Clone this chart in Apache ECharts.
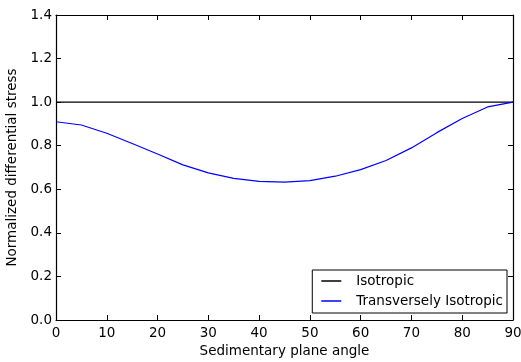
<!DOCTYPE html>
<html>
<head>
<meta charset="utf-8">
<script src="https://cdn.jsdelivr.net/npm/echarts@6/dist/echarts.min.js"></script>
<style>
  html, body { margin: 0; padding: 0; background: #fff; }
  #chart { width: 521px; height: 362px; }
</style>
</head>
<body>
<div id="chart"></div>
<script>
// angles every 5 degrees
var angles = [0, 5, 10, 15, 20, 25, 30, 35, 40, 45, 50, 55, 60, 65, 70, 75, 80, 85, 90];
var isotropic = [1, 1, 1, 1, 1, 1, 1, 1, 1, 1, 1, 1, 1, 1, 1, 1, 1, 1, 1];
var transIso = [0.91, 0.895, 0.857, 0.81, 0.762, 0.712, 0.675, 0.65, 0.636, 0.633, 0.64, 0.66, 0.69, 0.732, 0.79, 0.86, 0.925, 0.978, 1.0];

var font = 'DejaVu Sans';
var fs = 13.5;

function pairs(xs, ys) {
  return xs.map(function (x, i) { return [x, ys[i]]; });
}

var chart = echarts.init(document.getElementById('chart'));
var tick = { show: true, inside: true, length: 5, lineStyle: { color: '#000' } };
var line = { show: true, onZero: false, lineStyle: { color: '#000', width: 1.2 } };

chart.setOption({
  animation: false,
  textStyle: { fontFamily: font },
  grid: { left: 56, right: 8, top: 15, bottom: 42, containLabel: false, outerBoundsMode: 'none' },
  legend: {
    orient: 'vertical',
    right: 14,
    bottom: 49,
    itemWidth: 20,
    itemHeight: 1.5,
    itemGap: 6,
    padding: [4, 4, 5, 9],
    borderColor: '#000',
    borderWidth: 1,
    borderRadius: 0,
    icon: 'rect',
    textStyle: { fontFamily: font, fontSize: fs, color: '#000', padding: [0, 0, 0, 10] },
    data: ['Isotropic', 'Transversely Isotropic']
  },
  xAxis: [
    {
      type: 'value', min: 0, max: 90, interval: 10,
      name: 'Sedimentary plane angle', nameLocation: 'middle', nameGap: 24,
      nameTextStyle: { fontFamily: font, fontSize: fs, color: '#000' },
      axisLine: line, axisTick: tick,
      axisLabel: { color: '#000', fontFamily: font, fontSize: fs, margin: 6 },
      splitLine: { show: false }
    },
    {
      type: 'value', min: 0, max: 90, interval: 10, position: 'top',
      axisLine: line, axisTick: tick, axisLabel: { show: false }, splitLine: { show: false }
    }
  ],
  yAxis: [
    {
      type: 'value', min: 0, max: 1.4, interval: 0.2,
      name: 'Normalized differential stress', nameLocation: 'middle', nameGap: 30,
      nameTextStyle: { fontFamily: font, fontSize: fs, color: '#000' },
      axisLine: line, axisTick: tick,
      axisLabel: { color: '#000', fontFamily: font, fontSize: fs, margin: 4,
        formatter: function (v) { return v.toFixed(1); } },
      splitLine: { show: false }
    },
    {
      type: 'value', min: 0, max: 1.4, interval: 0.2, position: 'right',
      axisLine: line, axisTick: tick, axisLabel: { show: false }, splitLine: { show: false }
    }
  ],
  series: [
    {
      name: 'Isotropic', type: 'line', showSymbol: false,
      itemStyle: { color: '#000' },
      lineStyle: { color: '#000', width: 1.2 },
      data: pairs(angles, isotropic)
    },
    {
      name: 'Transversely Isotropic', type: 'line', showSymbol: false,
      itemStyle: { color: '#0000ff' },
      lineStyle: { color: '#0000ff', width: 1.2 },
      data: pairs(angles, transIso)
    }
  ]
});
</script>
</body>
</html>
